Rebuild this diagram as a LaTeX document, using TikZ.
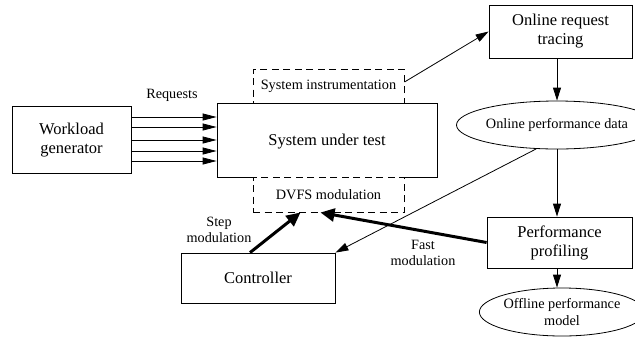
\documentclass[tikz,border=0pt]{standalone}
\usepackage{fontspec}
\setmainfont{Liberation Serif}
\usetikzlibrary{shapes.geometric,arrows.meta,calc}
\begin{document}
\begin{tikzpicture}[x=1pt,y=-1pt,
  box/.style={draw,line width=0.8pt,rectangle,align=center,inner sep=0pt,font=\fontsize{16.5}{19}\selectfont},
  dbox/.style={draw,line width=1pt,dash pattern=on 7pt off 4.5pt,fill=white,rectangle,align=center,inner sep=0pt,font=\fontsize{14.3}{17}\selectfont},
  oval/.style={draw,line width=0.8pt,ellipse,align=center,inner sep=0pt,font=\fontsize{14.3}{17}\selectfont},
  lbl/.style={align=center,inner sep=0pt,font=\fontsize{14.2}{16.5}\selectfont},
  arr/.style={line width=0.8pt,-{Triangle[length=13pt,width=8pt]}},
  thick arr/.style={line width=3pt,-{Triangle[length=14pt,width=13pt]}}
]
\useasboundingbox (0,0) rectangle (635,341);
\node[box,minimum width=119pt,minimum height=67pt] (wg) at (71.5,140) {Workload\\generator};
\node[box,minimum width=220pt,minimum height=74pt] (sut) at (327,140) {};
\node[lbl,font=\fontsize{16.5}{19}\selectfont] (suttxt) at (327,142) {System under test};
\node[dbox,minimum width=151pt,minimum height=34pt] (instr) at (328.5,86) {System instrumentation};
\node[dbox,minimum width=151pt,minimum height=35pt] (dvfs) at (328.5,194.5) {DVFS modulation};
\node[box,minimum width=143pt,minimum height=53pt] (trace) at (560.5,31.5) {Online request\\tracing};
\node[oval,minimum width=158pt,minimum height=48pt] (odata) at (557,125) {Online performance data};
\node[box,minimum width=145pt,minimum height=51pt] (prof) at (559.5,242.5) {Performance\\profiling};
\node[oval,minimum width=148pt,minimum height=48pt] (offline) at (562,312) {Offline performance\\model};
\node[box,minimum width=154pt,minimum height=50pt] (ctrl) at (258,278) {Controller};
\node[lbl] (req) at (172,95) {Requests};
\node[lbl] (steplbl) at (219,230) {Step\\modulation};
\node[lbl] (fastlbl) at (423,253) {Fast\\modulation};
\foreach \dy in {-23,-13,0,11,21}
  \draw[arr,-{Triangle[length=14pt,width=7pt]}] ($(wg.east)+(0,\dy)$) -- ($(sut.west)+(0,\dy)$);
\draw[arr] ($(instr.east)+(0,-4)$) -- (trace.west);
\draw[arr] (trace.south -| odata.north) -- (odata.north);
\draw[arr] (odata.south) -- (odata.south |- prof.north);
\draw[arr] (prof.south -| odata.south) -- (offline.north -| odata.south);
\draw[arr] (odata.229) -- (ctrl.north east);
\draw[thick arr] ($(ctrl.north)+(-8,0)$) -- ($(dvfs.south)+(-28,0)$);
\draw[thick arr] (prof.west) -- ($(dvfs.south)+(-8,0)$);
\end{tikzpicture}
\end{document}
